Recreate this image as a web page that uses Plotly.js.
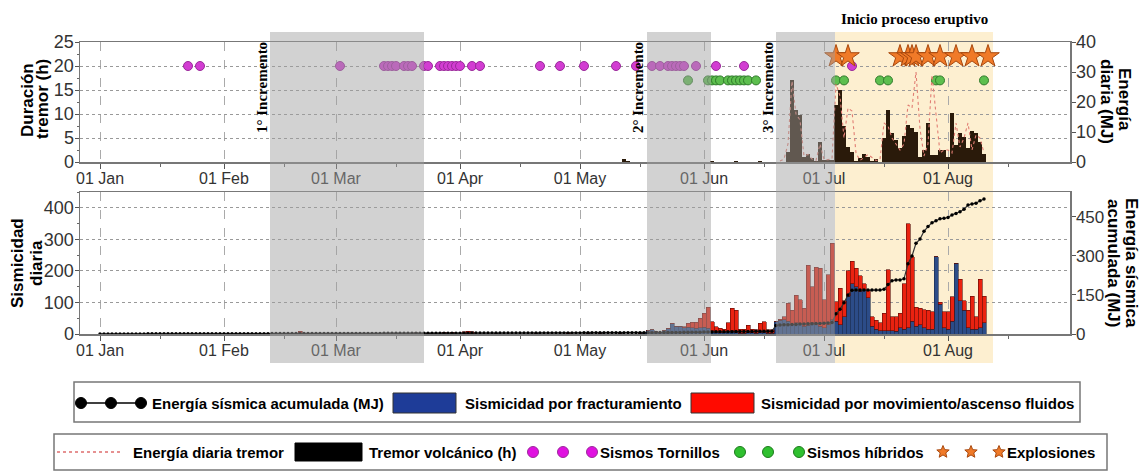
<!DOCTYPE html>
<html><head><meta charset="utf-8">
<script src="https://cdn.plot.ly/plotly-3.0.1.min.js"></script>
<style>html,body{margin:0;padding:0;background:#fff}#chart{width:1143px;height:472px}</style>
</head><body><div id="chart"></div>
<script>
// ---------------- DATA ----------------
// Top panel: point events (left axis, hours scale used as level)
const tornillosDates = ['2019-01-23','2019-01-26','2019-03-02','2019-03-13','2019-03-14','2019-03-15','2019-03-16','2019-03-18','2019-03-19','2019-03-20','2019-03-23','2019-03-24','2019-03-27','2019-03-28','2019-03-29','2019-03-30','2019-03-31','2019-04-01','2019-04-04','2019-04-06','2019-04-21','2019-04-26','2019-05-02','2019-05-10','2019-05-15','2019-05-19','2019-05-21','2019-05-23','2019-05-24','2019-05-25','2019-05-26','2019-05-27','2019-05-30','2019-06-04','2019-06-11','2019-07-08'];
const tornillosLevel = [20,20,20,20,20,20,20,20,20,20,20,20,20,20,20,20,20,20,20,20,20,20,20,20,20,20,20,20,20,20,20,20,20,20,20,20];
const hibridosDates = ['2019-05-28','2019-06-02','2019-06-03','2019-06-04','2019-06-05','2019-06-07','2019-06-08','2019-06-09','2019-06-10','2019-06-11','2019-06-12','2019-06-14','2019-07-04','2019-07-06','2019-07-15','2019-07-17','2019-07-29','2019-07-30','2019-08-10'];
const hibridosLevel = [17,17,17,17,17,17,17,17,17,17,17,17,17,17,17,17,17,17,17];
const explosionDates = ['2019-07-04','2019-07-07','2019-07-20','2019-07-22','2019-07-23','2019-07-24','2019-07-27','2019-07-30','2019-08-03','2019-08-07','2019-08-11'];
const explosionLevel = [22,22,22,22,22,22,22,22,22,22,22];

// Tremor volcánico (h): sparse early days + daily series starting 2019-06-22
const tremorEarlyDates = ['2019-05-12','2019-05-13','2019-06-03','2019-06-09','2019-06-15'];
const tremorEarlyHours = [0.6,0.3,0.2,0.15,0.15];
const tremorStart = '2019-06-22';
const tremorHours = [2.1,17.1,10.8,9.8,1.1,1.7,0.8,0.3,4.2,0.5,0.5,0.5,11.9,15.0,7.4,3.2,2.1,0.3,0.8,1.7,1.0,0.3,0.6,0.1,5.0,10.8,6.0,4.6,2.9,5.4,7.7,7.1,6.3,1.1,2.5,8.2,1.5,1.5,2.5,2.5,1.1,10.3,3.5,6.0,5.2,2.9,6.5,6.0,4.2,1.7];

// Energía diaria tremor (MJ), daily from 2019-06-20
const energyStart = '2019-06-20';
const energyDaily = [0.3,1.0,6,27,16,14,2,2.5,1,0.5,6,0.8,0.8,1,26,22,8,18,17,3,0.5,1.5,2.5,1.5,0.5,0.8,13,12,8,6,4,6,19,18,30,11,2,6,29,16,3,4,4,3,13,5,8,13,4,9,8,3];

// Bottom panel: daily seismicity (sparse early days + daily from 2019-05-16)
const seisEarlyDates = ['2019-02-18','2019-02-20','2019-03-01','2019-03-16','2019-03-21','2019-03-24','2019-03-28','2019-03-30','2019-04-02','2019-04-03','2019-04-04','2019-04-10','2019-04-20','2019-04-28','2019-05-03','2019-05-06','2019-05-11'];
const fractEarly = [2,3,1,2,2,2,3,3,1,1,1,2,2,1,2,2,2];
const fluidEarly = [1,5,2,1,2,1,2,2,6,8,6,1,1,3,1,1,1];
const seisStart = '2019-05-16';
const fracturamiento = [2,4,12,13,7,4,10,16,33,24,24,20,22,20,18,20,22,18,10,5,4,5,8,10,6,3,3,5,4,3,5,6,3,3,
  39,44,45,40,30,35,32,25,28,35,30,25,20,30,45,
  40,30,55,120,160,150,135,138,115,25,15,10,10,10,10,8,20,15,20,40,25,30,20,15,15,245,95,20,15,40,225,105,75,20,15,15,20,35];
const fluidos = [0,0,0,0,0,0,0,2,1,1,1,3,12,17,19,30,43,66,29,18,14,10,28,71,70,12,12,23,11,10,29,33,10,10,
  0,2,10,58,46,88,76,57,190,115,182,184,88,157,243,
  62,115,50,80,71,58,49,22,24,30,29,25,55,193,45,47,45,145,330,205,60,52,57,60,55,0,5,50,55,78,0,68,30,55,105,40,153,85];

// Energía sísmica acumulada (MJ), daily from 2019-01-01
const cumStart = '2019-01-01';
const energiaAcumulada = [
  0.1,0.1,0.1,0.2,0.2,0.2,0.3,0.3,0.3,0.4,0.4,0.4,0.5,0.5,0.5,0.6,0.6,0.6,0.7,0.7,0.7,0.8,0.8,0.8,0.9,0.9,0.9,1.0,1.0,1.0,
  1.0,1.1,1.1,1.1,1.2,1.2,1.2,1.3,1.3,1.3,1.4,1.4,1.4,1.5,1.5,1.5,1.6,1.6,1.6,1.7,1.8,1.8,1.8,1.9,1.9,1.9,2.0,2.0,2.0,2.1,
  2.1,2.1,2.2,2.2,2.2,2.3,2.3,2.3,2.4,2.4,2.4,2.5,2.5,2.5,2.6,2.6,2.6,2.7,2.7,2.7,2.8,2.8,2.8,2.9,2.9,2.9,3.0,3.0,3.0,3.1,
  3.1,3.2,3.3,3.4,3.5,3.5,3.5,3.6,3.6,3.6,3.7,3.7,3.7,3.8,3.8,3.8,3.9,3.9,3.9,4.0,4.0,4.0,4.1,4.1,4.1,4.2,4.2,4.2,4.3,4.3,
  4.3,4.4,4.4,4.4,4.5,4.5,4.5,4.6,4.6,4.6,4.7,4.8,4.8,4.9,4.9,5.0,5.0,5.1,5.2,5.3,5.4,5.5,5.6,5.8,6.0,6.2,6.4,6.6,6.8,7.0,
  7.2,7.5,7.8,8.0,8.2,8.4,8.6,8.8,9.0,9.2,9.4,9.6,9.8,10.0,10.2,10.4,10.6,10.8,11.0,
  33,35,36,36,37,37,38,38,39,39,40,40,41,42,44,
  78,95,120,150,168,169,169,169,169,169,169,169,172,190,205,208,208,212,270,300,349,365,395,413,428,435,443,445,448,458,463,470,480,496,500,503,512,519];

// Shaded periods
const increments = [['2019-02-12 12:00','2019-03-23'],['2019-05-17 18:00','2019-06-02 18:00'],['2019-06-19','2019-07-03 18:00']];
const eruptive = ['2019-07-03 18:00','2019-08-12 06:00'];

// ---------------- HELPERS ----------------
const W = 1143, H = 472;
const px = x => x / W;
const py = y => 1 - y / H;
function daily(start, n) {
  const t0 = Date.parse(start + 'T00:00:00Z');
  const out = [];
  for (let i = 0; i < n; i++) out.push(new Date(t0 + i * 86400000).toISOString().slice(0, 10));
  return out;
}
const SANS = 'Liberation Sans, Arial, sans-serif';
const SERIF = 'Liberation Serif, Times New Roman, serif';

const blueBar = '#2c4c88', redBar = '#ea2210';

// ---------------- TRACES ----------------
const traces = [
  { type: 'bar', xaxis: 'x', yaxis: 'y', x: tremorEarlyDates.concat(daily(tremorStart, tremorHours.length)),
    y: tremorEarlyHours.concat(tremorHours), marker: { color: '#2a1a0a', line: { width: 0 } } },
  { type: 'scatter', mode: 'lines', xaxis: 'x', yaxis: 'y2', x: daily(energyStart, energyDaily.length), y: energyDaily,
    line: { color: 'rgb(225,125,115)', width: 1.1, dash: 'dot' } },
  { type: 'scatter', mode: 'markers', xaxis: 'x', yaxis: 'y', x: tornillosDates, y: tornillosLevel,
    marker: { symbol: 'circle', size: 9, color: '#d23cd2', line: { color: '#9a2a9a', width: 1 } } },
  { type: 'scatter', mode: 'markers', xaxis: 'x', yaxis: 'y', x: hibridosDates, y: hibridosLevel,
    marker: { symbol: 'circle', size: 9, color: '#5dbf4e', line: { color: '#2f7a2a', width: 1 } } },
  { type: 'scatter', mode: 'markers', xaxis: 'x', yaxis: 'y', x: explosionDates, y: explosionLevel,
    marker: { symbol: 'star', size: 17, color: '#f07a28', line: { color: '#a8480e', width: 1 } } },
  { type: 'bar', xaxis: 'x2', yaxis: 'y3', x: seisEarlyDates.concat(daily(seisStart, fracturamiento.length)),
    y: fractEarly.concat(fracturamiento), marker: { color: blueBar, line: { color: '#1b2a4a', width: 0.6 } } },
  { type: 'bar', xaxis: 'x2', yaxis: 'y3', x: seisEarlyDates.concat(daily(seisStart, fluidos.length)),
    y: fluidEarly.concat(fluidos), marker: { color: redBar, line: { color: '#5a0c06', width: 0.6 } } },
  { type: 'scatter', mode: 'lines+markers', xaxis: 'x2', yaxis: 'y4', x: daily(cumStart, energiaAcumulada.length), y: energiaAcumulada,
    line: { color: '#333', width: 1.2 }, marker: { color: '#000', size: 3.5 } }
];

// ---------------- AXES ----------------
const xBase = {
  type: 'date', range: ['2018-12-27', '2019-08-31 12:00'], domain: [px(80), px(1070)],
  tickmode: 'linear', tick0: '2019-01-01', dtick: 'M1', tickformat: '%d %b',
  ticks: 'outside', ticklen: 5, tickcolor: '#555', tickwidth: 1, ticklabelstandoff: -4,
  showgrid: true, gridcolor: '#aaaaaa', griddash: 'dash', gridwidth: 1,
  showline: true, linecolor: '#777', linewidth: 1.5, mirror: true, zeroline: false,
  tickfont: { family: SANS, size: 16, color: '#333' },
  minor: { ticks: 'outside', ticklen: 3, tickcolor: '#666', tick0: '2019-01-16', dtick: 'M1', showgrid: false }
};
const yBase = {
  ticks: 'outside', ticklen: 4, tickcolor: '#555', showline: true, linecolor: '#777', linewidth: 1.5,
  zeroline: false, tickfont: { family: SANS, size: 18, color: '#333' }, ticklabelstandoff: -3
};

const layout = {
  width: W, height: H, margin: { l: 0, r: 0, t: 0, b: 0, pad: 0 },
  paper_bgcolor: '#fff', plot_bgcolor: 'rgba(0,0,0,0)', showlegend: false, hovermode: false,
  barmode: 'stack', bargap: 0,
  xaxis: Object.assign({}, xBase, { anchor: 'y' }),
  xaxis2: Object.assign({}, xBase, { anchor: 'y3', matches: 'x' }),
  yaxis: Object.assign({}, yBase, { domain: [py(162), py(42)], range: [0, 25], tick0: 0, dtick: 5,
    showgrid: true, gridcolor: '#999', griddash: 'dot', minor: { ticks: 'outside', ticklen: 2, dtick: 2.5, tickcolor: '#666' } }),
  yaxis2: Object.assign({}, yBase, { overlaying: 'y', side: 'right', anchor: 'x', range: [0, 40], tick0: 0, dtick: 10, showgrid: false }),
  yaxis3: Object.assign({}, yBase, { domain: [py(334), py(192)], range: [0, 450], tick0: 0, dtick: 100,
    showgrid: true, gridcolor: '#999', griddash: 'dot', anchor: 'x2', minor: { ticks: 'outside', ticklen: 2, dtick: 50, tickcolor: '#666' } }),
  yaxis4: Object.assign({}, yBase, { overlaying: 'y3', side: 'right', anchor: 'x2', range: [0, 546], tick0: 0, dtick: 150, showgrid: false,
    tickfont: { family: SANS, size: 17, color: '#333' } })
};

// ---------------- SHAPES ----------------
const shapes = [];
shapes.push({ type: 'rect', xref: 'x', yref: 'paper', x0: eruptive[0], x1: eruptive[1], y0: py(363), y1: py(32),
  fillcolor: '#fdefd0', line: { width: 0 }, layer: 'below' });
increments.forEach(p => shapes.push({ type: 'rect', xref: 'x', yref: 'paper', x0: p[0], x1: p[1], y0: py(363), y1: py(32),
  fillcolor: 'rgb(160,160,160)', opacity: 0.47, line: { width: 0 }, layer: 'above' }));

function prect(x0, y0, x1, y1, fill, line, lw) {
  shapes.push({ type: 'rect', xref: 'paper', yref: 'paper', x0: px(x0), x1: px(x1), y0: py(y1), y1: py(y0),
    fillcolor: fill, line: { color: line || fill, width: lw === undefined ? 1 : lw } });
}
function pcircle(cx, cy, r, fill, line) {
  shapes.push({ type: 'circle', xref: 'paper', yref: 'paper', x0: px(cx - r), x1: px(cx + r), y0: py(cy + r), y1: py(cy - r),
    fillcolor: fill, line: { color: line, width: 1 } });
}
function pstar(cx, cy, R, fill, line) {
  let d = '';
  for (let i = 0; i < 10; i++) {
    const rr = i % 2 === 0 ? R : R * 0.45;
    const a = -Math.PI / 2 + i * Math.PI / 5;
    d += (i === 0 ? 'M' : 'L') + px(cx + rr * Math.cos(a)).toFixed(5) + ',' + py(cy + rr * Math.sin(a)).toFixed(5);
  }
  shapes.push({ type: 'path', xref: 'paper', yref: 'paper', path: d + 'Z', fillcolor: fill, line: { color: line, width: 1 } });
}
// legend boxes
prect(74, 382, 1080, 422, 'rgba(255,255,255,0)', '#777', 1.5);
prect(54, 434, 1107, 470, 'rgba(255,255,255,0)', '#777', 1.5);
// legend 1 symbols
shapes.push({ type: 'line', xref: 'paper', yref: 'paper', x0: px(81), x1: px(141), y0: py(403), y1: py(403), line: { color: '#000', width: 1.5 } });
[81, 111, 141].forEach(c => pcircle(c, 403, 5.5, '#000', '#000'));
prect(393, 393, 456, 413, '#1e3c98', '#333', 1);
prect(691, 393, 754, 413, '#ff0a00', '#333', 1);
// legend 2 symbols
shapes.push({ type: 'line', xref: 'paper', yref: 'paper', x0: px(57), x1: px(120), y0: py(452), y1: py(452), line: { color: 'rgb(222,110,110)', width: 1.5, dash: 'dot' } });
prect(295, 443, 362, 461, '#000', '#000', 1);
[533, 563, 592].forEach(c => pcircle(c, 452, 5.5, '#e010e0', '#9a2a9a'));
[740, 768, 799].forEach(c => pcircle(c, 452, 5.5, '#2fc02f', '#1d7a1d'));
[943, 971, 999].forEach(c => pstar(c, 452, 6.5, '#f07a28', '#a8480e'));
layout.shapes = shapes;

// ---------------- ANNOTATIONS ----------------
const ann = [];
function txt(text, x, y, opts) {
  ann.push(Object.assign({ text: text, xref: 'paper', yref: 'paper', x: px(x), y: py(y), showarrow: false,
    xanchor: 'center', yanchor: 'middle', font: { family: SANS, size: 17, color: '#000' } }, opts || {}));
}
// axis titles
txt('<b>Duración</b>', 27, 100, { textangle: -90 });
txt('<b>tremor (h)</b>', 42, 99, { textangle: -90 });
txt('<b>Sismicidad</b>', 17, 263, { textangle: -90 });
txt('<b>diaria</b>', 36, 263, { textangle: -90 });
txt('<b>Energía</b>', 1125, 99, { textangle: 90 });
txt('<b>diaria (MJ)</b>', 1107, 101, { textangle: 90 });
txt('<b>Energía sísmica</b>', 1132, 263, { textangle: 90 });
txt('<b>acumulada (MJ)</b>', 1114, 263, { textangle: 90 });
// period labels
const serif = { family: SERIF, size: 15, color: '#000' };
txt('<b>1° Incremento</b>', 262, 88, { textangle: -90, font: serif });
txt('<b>2° Incremento</b>', 638, 88, { textangle: -90, font: serif });
txt('<b>3° Incremento</b>', 768, 88, { textangle: -90, font: serif });
txt('<b>Inicio proceso eruptivo</b>', 914, 19, { font: serif });
// legend texts
const lf = { family: SANS, size: 15, color: '#000' };
txt('<b>Energía sísmica acumulada (MJ)</b>', 150, 403, { xanchor: 'left', font: lf });
txt('<b>Sismicidad por fracturamiento</b>', 463, 403, { xanchor: 'left', font: lf });
txt('<b>Sismicidad por movimiento/ascenso fluidos</b>', 759, 403, { xanchor: 'left', font: lf });
txt('<b>Energía diaria tremor</b>', 131, 452, { xanchor: 'left', font: lf });
txt('<b>Tremor volcánico (h)</b>', 367, 452, { xanchor: 'left', font: lf });
txt('<b>Sismos Tornillos</b>', 598, 452, { xanchor: 'left', font: lf });
txt('<b>Sismos híbridos</b>', 805, 452, { xanchor: 'left', font: lf });
txt('<b>Explosiones</b>', 1005, 452, { xanchor: 'left', font: lf });
layout.annotations = ann;

Plotly.newPlot('chart', traces, layout, { staticPlot: true, displayModeBar: false });
</script>
</body></html>
